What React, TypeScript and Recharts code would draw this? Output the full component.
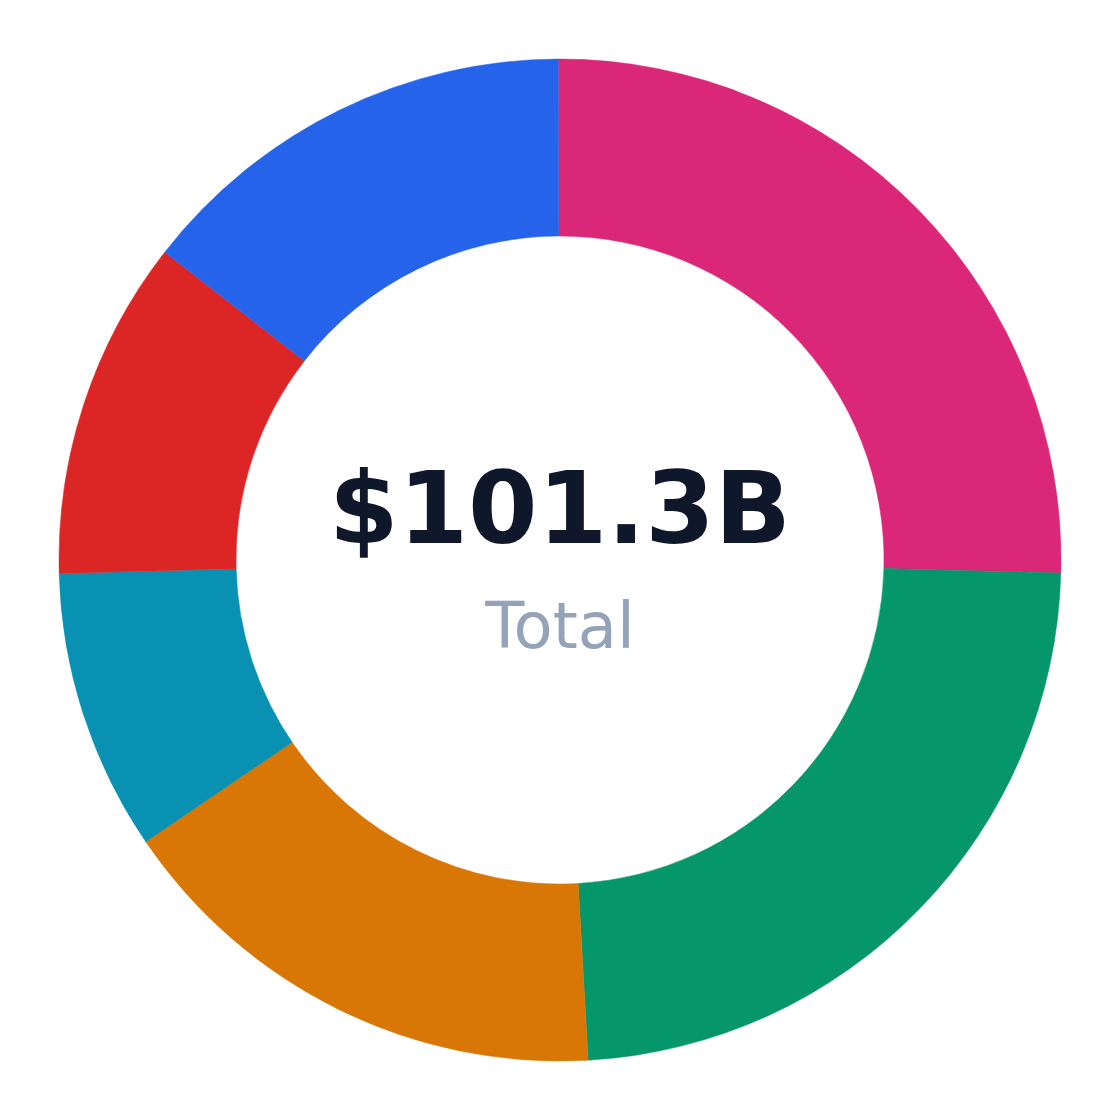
import React from 'react';
import { PieChart, Pie, Cell, Label } from 'recharts';

const categories = ['Segment A', 'Segment B', 'Segment C', 'Segment D', 'Segment E', 'Segment F'];
const values = [25.8, 24.0, 16.6, 9.2, 11.1, 14.6];
const colors = ['#db2777', '#059669', '#d97706', '#0891b2', '#dc2626', '#2563eb'];
const totalLabel = '$101.3B';
const subLabel = 'Total';

const data = categories.map((name, i) => ({ name, value: values[i] }));

const CenterLabel = (props: any) => {
  const { viewBox } = props;
  const cx = viewBox?.cx ?? 552;
  const cy = viewBox?.cy ?? 552;
  return (
    <g>
      <text
        x={cx}
        y={cy - 17}
        textAnchor="middle"
        fontFamily="DejaVu Sans"
        fontWeight="bold"
        fontSize={100}
        fill="#0f172a"
      >
        {totalLabel}
      </text>
      <text
        x={cx}
        y={cy + 88}
        textAnchor="middle"
        fontFamily="DejaVu Sans"
        fontSize={64}
        fill="#94a3b8"
      >
        {subLabel}
      </text>
    </g>
  );
};

const App: React.FC = () => {
  return (
    <div style={{ width: 1104, height: 1104 }}>
      <PieChart width={1104} height={1104} margin={{ top: 0, right: 0, bottom: 0, left: 0 }}>
        <Pie
          data={data}
          dataKey="value"
          nameKey="name"
          cx="50%"
          cy="50%"
          innerRadius={324}
          outerRadius={501}
          startAngle={90.2}
          endAngle={-269.8}
          isAnimationActive={false}
        >
          {data.map((entry, index) => (
            <Cell
              key={`cell-${index}`}
              fill={colors[index % colors.length]}
              stroke={colors[index % colors.length]}
              strokeWidth={0.5}
            />
          ))}
          <Label position="center" content={<CenterLabel />} />
        </Pie>
      </PieChart>
    </div>
  );
};

export default App;
